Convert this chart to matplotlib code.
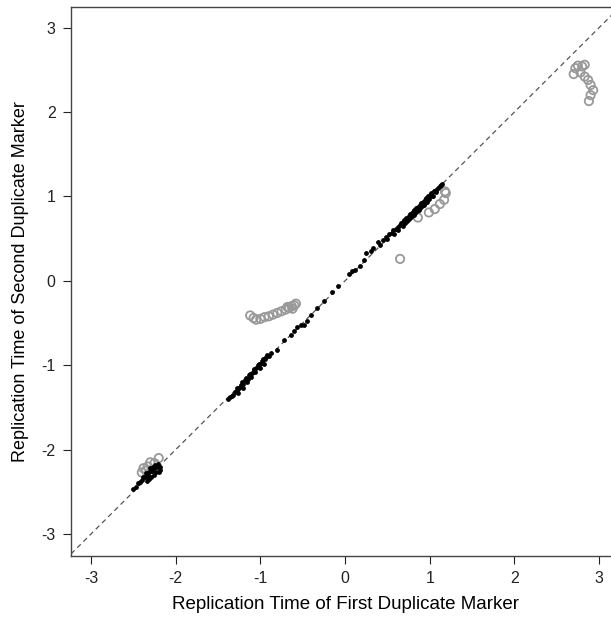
import matplotlib
matplotlib.use("Agg")
import matplotlib.pyplot as plt

plt.rcParams['font.family'] = ['Liberation Sans', 'DejaVu Sans']
plt.rcParams['axes.unicode_minus'] = False

# markers whose two duplicates agree (black dots)
agree_x = [-2.50, -2.47, -2.45, -2.42, -2.40, -2.38, -2.36, -2.35, -2.33, -2.31,
           -2.30, -2.28, -2.27, -2.25, -2.24, -2.22, -2.21, -2.19, -2.18, -2.23,
           -2.26, -2.29, -2.32, -2.34, -2.20,
           -1.38, -1.36, -1.34, -1.32, -1.30, -1.28, -1.27, -1.25, -1.23, -1.22,
           -1.20, -1.18, -1.17, -1.15, -1.13, -1.12, -1.10, -1.08, -1.07, -1.05,
           -1.03, -1.02, -1.00, -0.98, -0.97, -0.95, -0.93, -0.92, -0.90, -0.88,
           -1.26, -1.21, -1.16, -1.11, -1.06, -1.01, -0.96,
           -0.80, -0.72, -0.64, -0.60, -0.57, -0.52, -0.48, -0.45,
           -0.40, -0.33, -0.25, -0.15, -0.08, 0.05, 0.08, 0.12, 0.18, 0.22,
           0.25, 0.31, 0.33, 0.39, 0.41,
           0.45, 0.48, 0.50, 0.52, 0.55, 0.57, 0.58, 0.60, 0.62, 0.63,
           0.65, 0.66, 0.68, 0.68, 0.70, 0.71, 0.72, 0.73, 0.75, 0.76,
           0.77, 0.78, 0.80, 0.81, 0.82, 0.83, 0.84, 0.85, 0.86, 0.88,
           0.88, 0.90, 0.91, 0.92, 0.94, 0.95, 0.96, 0.98, 0.99, 1.00,
           1.02, 1.03, 1.05, 1.07, 1.08, 1.10, 1.12, 1.13, 1.15, 0.74,
           0.79, 0.87, 0.93, 0.97, 1.04]
agree_y = [-2.47, -2.44, -2.40, -2.38, -2.36, -2.33, -2.32, -2.28, -2.30, -2.26,
           -2.22, -2.25, -2.20, -2.22, -2.18, -2.21, -2.17, -2.20, -2.24, -2.27,
           -2.30, -2.32, -2.35, -2.37, -2.26,
           -1.40, -1.38, -1.36, -1.35, -1.32, -1.30, -1.27, -1.27, -1.24, -1.20,
           -1.22, -1.18, -1.15, -1.16, -1.12, -1.10, -1.09, -1.06, -1.04, -1.03,
           -1.00, -0.98, -0.98, -0.95, -0.93, -0.93, -0.90, -0.88, -0.89, -0.86,
           -1.33, -1.27, -1.20, -1.14, -1.08, -1.03, -0.98,
           -0.82, -0.70, -0.64, -0.60, -0.55, -0.52, -0.52, -0.47,
           -0.40, -0.32, -0.24, -0.13, -0.06, 0.08, 0.12, 0.13, 0.18, 0.25,
           0.33, 0.35, 0.39, 0.46, 0.43,
           0.48, 0.52, 0.50, 0.56, 0.57, 0.60, 0.56, 0.62, 0.64, 0.60,
           0.66, 0.68, 0.70, 0.65, 0.72, 0.68, 0.74, 0.71, 0.77, 0.73,
           0.79, 0.76, 0.82, 0.78, 0.84, 0.80, 0.86, 0.83, 0.88, 0.90,
           0.86, 0.92, 0.89, 0.94, 0.96, 0.92, 0.98, 1.00, 0.97, 1.02,
           1.04, 1.01, 1.06, 1.08, 1.05, 1.10, 1.12, 1.14, 1.15, 0.75,
           0.80, 0.84, 0.90, 0.94, 1.00]

# markers whose duplicates disagree (gray open circles)
differ_x = [-2.40, -2.38, -2.33, -2.30, -2.25, -2.20, -2.35,
            -1.12, -1.08, -1.05, -1.00, -0.95, -0.90, -0.85, -0.80, -0.75,
            -0.70, -0.66, -0.63, -0.60, -0.58, -0.62, -0.68,
            0.65, 0.86, 0.99, 1.06, 1.12, 1.17, 1.19, 1.18,
            2.72, 2.75, 2.80, 2.83, 2.78, 2.83, 2.87, 2.90, 2.93, 2.90,
            2.88, 2.70]
differ_y = [-2.27, -2.22, -2.20, -2.15, -2.16, -2.10, -2.25,
            -0.41, -0.44, -0.46, -0.45, -0.43, -0.42, -0.40, -0.38, -0.36,
            -0.34, -0.32, -0.30, -0.29, -0.27, -0.33, -0.31,
            0.26, 0.75, 0.81, 0.85, 0.91, 0.96, 1.04, 1.06,
            2.52, 2.55, 2.54, 2.56, 2.47, 2.42, 2.38, 2.32, 2.26, 2.20,
            2.13, 2.45]

ticks = [-3, -2, -1, 0, 1, 2, 3]

fig = plt.figure(figsize=(6.11, 6.17), dpi=100)
# right edge of the box runs past the figure, as in the original
ax = fig.add_axes([0.1162, 0.0989, 0.897, 0.8898])

ax.axline((0, 0), slope=1, color='#555555', linestyle=(0, (4, 3)), linewidth=0.9)
ax.scatter(differ_x, differ_y, s=36, facecolors='none', edgecolors='#999999',
           linewidths=1.3, zorder=3)
ax.scatter(agree_x, agree_y, s=12, color='black', linewidths=0, zorder=4)

ax.set_xlim(-3.236, 3.236)
ax.set_ylim(-3.26, 3.245)
ax.set_xticks(ticks)
ax.set_yticks(ticks)
ax.tick_params(direction='out', length=6, width=0.8, labelsize=11.5,
               colors='#222222', pad=5)
for s in ax.spines.values():
    s.set_linewidth(1.0)
    s.set_color('#444444')

ax.set_xlabel('Replication Time of First Duplicate Marker', fontsize=13.5, labelpad=7)
ax.set_ylabel('Replication Time of Second Duplicate Marker', fontsize=13, labelpad=9)

fig.savefig('out.png', dpi=100)
